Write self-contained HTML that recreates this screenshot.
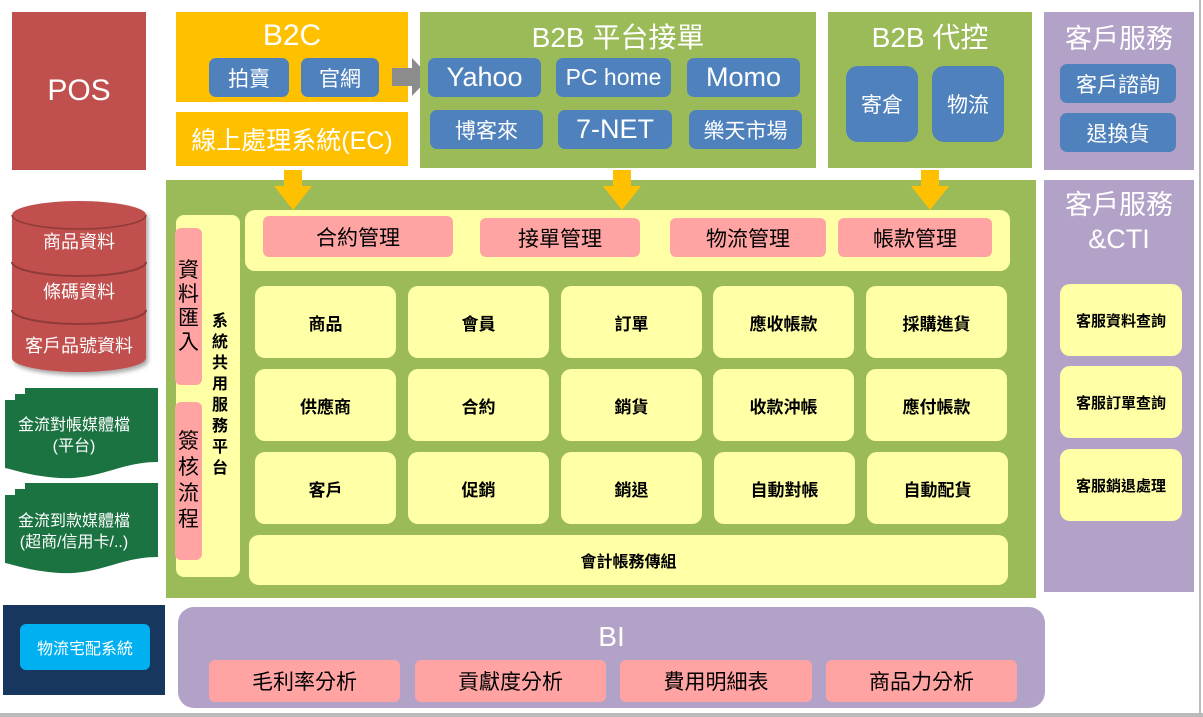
<!DOCTYPE html>
<html><head><meta charset="utf-8"><style>
body{margin:0;width:1203px;height:717px;background:#fff;position:relative;overflow:hidden;font-family:"Liberation Sans","Noto Sans CJK TC",sans-serif}
.a{position:absolute;box-sizing:border-box;display:flex;align-items:center;justify-content:center;text-align:center}
.w{color:#fff}
.blue{background:#4f81bd;color:#fff;border-radius:7px;font-size:21px}
.y{background:#ffffa6;border-radius:10px;color:#000;font-size:17px;font-weight:bold}
.p{background:#ffa3a3;border-radius:6px;color:#000;font-size:21px}
.g{background:#9bbb59}
.l{background:#b3a2c7}
</style></head><body>
<div class="a w" style="left:12px;top:12px;width:134px;height:158px;background:#c0504d;font-size:30px">POS</div>
<div class="a" style="left:176px;top:12px;width:232px;height:90px;background:#ffc000"></div>
<div class="a w" style="left:176px;top:16px;width:232px;height:40px;font-size:30px">B2C</div>
<div class="a blue" style="left:209px;top:58px;width:80px;height:39px">拍賣</div>
<div class="a blue" style="left:301px;top:58px;width:78px;height:39px">官網</div>
<div class="a w" style="left:176px;top:112px;width:232px;height:54px;background:#ffc000;font-size:25px">線上處理系統(EC)</div>
<svg class="a" style="left:390px;top:56px" width="42" height="42"><polygon points="2,12 22,12 22,2 40,21 22,40 22,30 2,30" fill="#8c8c8c"/></svg>
<div class="a g" style="left:420px;top:12px;width:396px;height:156px"></div>
<div class="a w" style="left:420px;top:16px;width:396px;height:40px;font-size:28px">B2B 平台接單</div>
<div class="a blue" style="left:428px;top:58px;width:113px;height:39px;font-size:27px">Yahoo</div>
<div class="a blue" style="left:556px;top:58px;width:115px;height:39px;font-size:23px">PC home</div>
<div class="a blue" style="left:687px;top:58px;width:113px;height:39px;font-size:27px">Momo</div>
<div class="a blue" style="left:430px;top:110px;width:113px;height:39px">博客來</div>
<div class="a blue" style="left:558px;top:110px;width:114px;height:39px;font-size:27px">7-NET</div>
<div class="a blue" style="left:689px;top:110px;width:113px;height:39px">樂天市場</div>
<div class="a g" style="left:828px;top:12px;width:204px;height:156px"></div>
<div class="a w" style="left:828px;top:16px;width:204px;height:40px;font-size:28px">B2B 代控</div>
<div class="a blue" style="left:846px;top:66px;width:72px;height:76px;border-radius:12px">寄倉</div>
<div class="a blue" style="left:932px;top:66px;width:72px;height:76px;border-radius:12px">物流</div>
<div class="a l" style="left:1044px;top:12px;width:150px;height:158px"></div>
<div class="a w" style="left:1044px;top:16px;width:150px;height:40px;font-size:27px">客戶服務</div>
<div class="a blue" style="left:1060px;top:64px;width:116px;height:39px">客戶諮詢</div>
<div class="a blue" style="left:1060px;top:113px;width:116px;height:39px">退換貨</div>
<div class="a l" style="left:1044px;top:180px;width:150px;height:412px"></div>
<div class="a w" style="left:1044px;top:186px;width:150px;height:72px;font-size:27px;line-height:34px">客戶服務<br>&amp;CTI</div>
<div class="a y" style="left:1060px;top:284px;width:122px;height:72px;font-size:15px">客服資料查詢</div>
<div class="a y" style="left:1060px;top:366px;width:122px;height:72px;font-size:15px">客服訂單查詢</div>
<div class="a y" style="left:1060px;top:449px;width:122px;height:72px;font-size:15px">客服銷退處理</div>
<div class="a" style="left:1199px;top:0;width:2px;height:717px;background:#bbb"></div>
<div class="a" style="left:0;top:713px;width:1203px;height:4px;background:#bbb"></div>
<div class="a g" style="left:166px;top:180px;width:870px;height:418px"></div>
<svg style="position:absolute;left:0;top:0" width="1203" height="717">
<g fill="#ffc000"><polygon points="284,170 302,170 302,186 312,186 293,210 274,186 284,186"/><polygon points="613,170 631,170 631,186 641,186 622,210 603,186 613,186"/><polygon points="921,170 939,170 939,186 949,186 930,210 911,186 921,186"/></g>
<defs><filter id="s"><feDropShadow dx="2" dy="3" stdDeviation="2" flood-opacity=".35"/></filter></defs>
<g filter="url(#s)"><path d="M12,215 A67,14 0 0 1 146,215 L146,358 A67,14 0 0 1 12,358 Z" fill="#c0504d"/></g>
<path d="M12,215 A67,14 0 0 0 146,215" fill="none" stroke="#8f3b39" stroke-width="1.5"/>
<path d="M12,262 A67,14 0 0 0 146,262 M12,310 A67,14 0 0 0 146,310" fill="none" stroke="#8f3b39" stroke-width="2"/>
<path d="M25,388 L158,388 L158,462 C120,462 100,480 60,478 C30,476 15,470 5,468 L5,400 L15,400 L15,394 L25,394 Z" fill="#1a7341"/>
<path d="M25,483 L158,483 L158,557 C120,557 100,575 60,573 C30,571 15,565 5,563 L5,495 L15,495 L15,489 L25,489 Z" fill="#1a7341"/>
</svg>
<div class="a w" style="left:12px;top:226px;width:134px;height:30px;font-size:18px">商品資料</div>
<div class="a w" style="left:12px;top:276px;width:134px;height:30px;font-size:18px">條碼資料</div>
<div class="a w" style="left:12px;top:330px;width:134px;height:30px;font-size:18px">客戶品號資料</div>
<div class="a w" style="left:4px;top:414px;width:140px;height:44px;font-size:16px;line-height:21px">金流對帳媒體檔<br>(平台)</div>
<div class="a w" style="left:4px;top:510px;width:140px;height:44px;font-size:16px;line-height:21px">金流到款媒體檔<br>(超商/信用卡/..)</div>
<div class="a" style="left:176px;top:215px;width:64px;height:362px;background:#ffffa6;border-radius:8px"></div>
<div class="a p" style="left:175px;top:228px;width:27px;height:157px;font-size:21px;line-height:24px">資<br>料<br>匯<br>入</div>
<div class="a p" style="left:175px;top:402px;width:27px;height:158px;font-size:21px;line-height:26px">簽<br>核<br>流<br>程</div>
<div class="a" style="left:206px;top:300px;width:28px;height:190px;font-size:16px;line-height:21px;font-weight:bold">系<br>統<br>共<br>用<br>服<br>務<br>平<br>台</div>
<div class="a" style="left:245px;top:210px;width:765px;height:61px;background:#ffffa6;border-radius:10px"></div>
<div class="a p" style="left:263px;top:216px;width:190px;height:41px">合約管理</div>
<div class="a p" style="left:480px;top:218px;width:160px;height:39px">接單管理</div>
<div class="a p" style="left:670px;top:218px;width:156px;height:39px">物流管理</div>
<div class="a p" style="left:838px;top:218px;width:154px;height:39px">帳款管理</div>
<div class="a y" style="left:255px;top:286px;width:141px;height:72px">商品</div>
<div class="a y" style="left:408px;top:286px;width:141px;height:72px">會員</div>
<div class="a y" style="left:561px;top:286px;width:141px;height:72px">訂單</div>
<div class="a y" style="left:713px;top:286px;width:141px;height:72px">應收帳款</div>
<div class="a y" style="left:866px;top:286px;width:141px;height:72px">採購進貨</div>
<div class="a y" style="left:255px;top:369px;width:141px;height:72px">供應商</div>
<div class="a y" style="left:408px;top:369px;width:141px;height:72px">合約</div>
<div class="a y" style="left:561px;top:369px;width:141px;height:72px">銷貨</div>
<div class="a y" style="left:713px;top:369px;width:141px;height:72px">收款沖帳</div>
<div class="a y" style="left:866px;top:369px;width:141px;height:72px">應付帳款</div>
<div class="a y" style="left:255px;top:452px;width:141px;height:72px">客戶</div>
<div class="a y" style="left:408px;top:452px;width:141px;height:72px">促銷</div>
<div class="a y" style="left:561px;top:452px;width:141px;height:72px">銷退</div>
<div class="a y" style="left:714px;top:452px;width:141px;height:72px">自動對帳</div>
<div class="a y" style="left:867px;top:452px;width:141px;height:72px">自動配貨</div>
<div class="a y" style="left:249px;top:535px;width:759px;height:50px;font-size:16px">會計帳務傳組</div>
<div class="a" style="left:3px;top:605px;width:162px;height:90px;background:#17375e"></div>
<div class="a w" style="left:20px;top:624px;width:130px;height:46px;background:#00b0f0;border-radius:6px;font-size:16px">物流宅配系統</div>
<div class="a l" style="left:178px;top:607px;width:867px;height:101px;border-radius:16px"></div>
<div class="a w" style="left:178px;top:617px;width:867px;height:40px;font-size:28px">BI</div>
<div class="a p" style="left:209px;top:660px;width:191px;height:42px">毛利率分析</div>
<div class="a p" style="left:415px;top:660px;width:191px;height:42px">貢獻度分析</div>
<div class="a p" style="left:620px;top:660px;width:192px;height:42px">費用明細表</div>
<div class="a p" style="left:826px;top:660px;width:191px;height:42px">商品力分析</div>
</body></html>
